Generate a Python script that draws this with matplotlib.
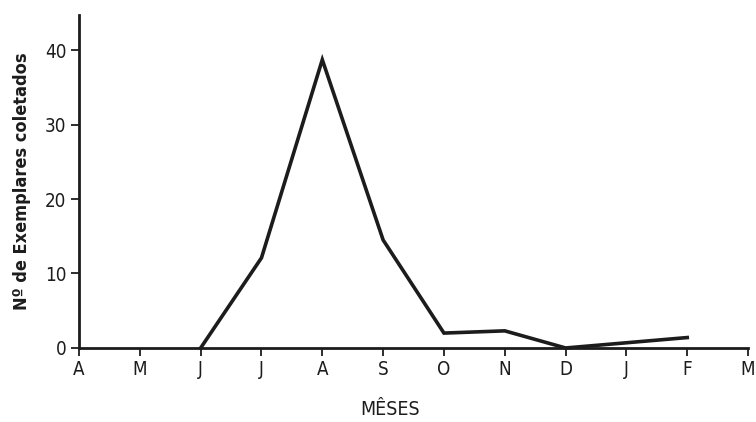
import matplotlib
matplotlib.use("Agg")
import matplotlib.pyplot as plt

# ---- data ----
months = ["A", "M", "J", "J", "A", "S", "O", "N", "D", "J", "F", "M"]
month_idx = [2, 3, 4, 5, 6, 7, 8, 9, 10]
counts = [0, 12.1, 38.7, 14.5, 2.0, 2.3, 0, 0.7, 1.4]
y_ticks = [0, 10, 20, 30, 40]

INK = "#1c1c1c"
plt.rcParams["font.family"] = ["DejaVu Sans"]

fig = plt.figure(figsize=(7.56, 4.22), dpi=100)
ax = fig.add_axes([0.1045, 0.1754, 0.8850, 0.7890])

ax.plot(month_idx, counts, color=INK, linewidth=2.6, solid_joinstyle="miter",
        clip_on=False, zorder=5)

ax.set_xlim(0, 11)
ax.set_ylim(0, 44.7)
ax.set_xticks(range(len(months)))
ax.set_xticklabels(months)
ax.set_yticks(y_ticks)

for s in ["top", "right"]:
    ax.spines[s].set_visible(False)
for s in ["left", "bottom"]:
    ax.spines[s].set_linewidth(2.0)
    ax.spines[s].set_color(INK)

ax.tick_params(axis="both", colors=INK, labelsize=13.5, width=1.3, length=6,
               direction="out", pad=3)
for lbl in ax.get_xticklabels() + ax.get_yticklabels():
    lbl.set_fontstretch("condensed")

ax.set_ylabel("Nº de Exemplares coletados", fontsize=13, fontweight="bold",
              color=INK, fontstretch="condensed", labelpad=10)
ax.set_xlabel("MÊSES", fontsize=14, color=INK, fontstretch="condensed")
ax.xaxis.set_label_coords(0.465, -0.155)

fig.savefig("out.png", dpi=100)
